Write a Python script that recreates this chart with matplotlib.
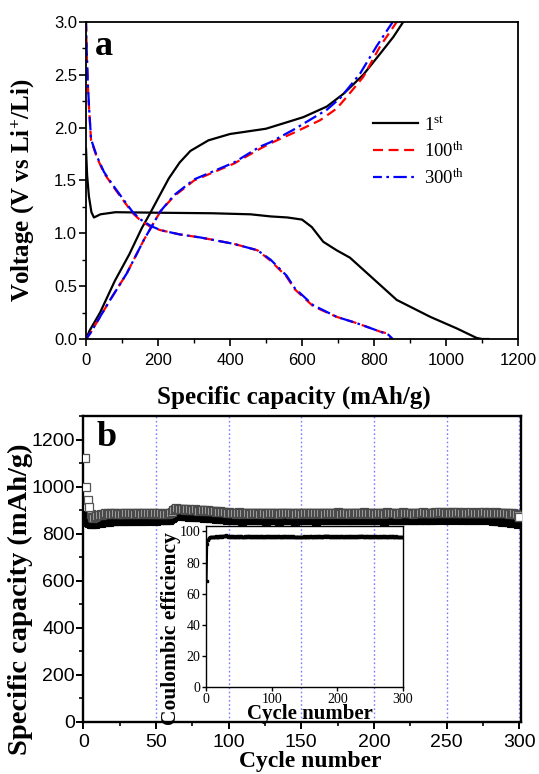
import matplotlib
matplotlib.use('Agg')
import matplotlib.pyplot as plt
from matplotlib.ticker import MultipleLocator, FormatStrFormatter

plt.rcParams['mathtext.fontset'] = 'custom'
plt.rcParams['mathtext.rm'] = 'Liberation Serif'
plt.rcParams['mathtext.it'] = 'Liberation Serif:italic'
plt.rcParams['mathtext.bf'] = 'Liberation Serif:bold'

SERIF = 'Liberation Serif'
SANS = 'Liberation Sans'

# ---- panel a: charge / discharge curves ----
cap_1st_dis = [0, 3, 8, 15, 22, 40, 82, 200, 350, 457, 513, 560, 600, 627, 659, 696, 733, 798, 863, 956, 1030, 1085, 1100, 1117]
v_1st_dis = [1.80, 1.55, 1.35, 1.20, 1.15, 1.18, 1.20, 1.195, 1.19, 1.18, 1.16, 1.15, 1.13, 1.06, 0.92, 0.84, 0.77, 0.57, 0.37, 0.21, 0.10, 0.01, 0.0, 0.0]

cap_1st_ch = [0, 10, 39, 80, 120, 155, 178, 200, 230, 260, 290, 340, 400, 500, 576, 604, 669, 715, 770, 817, 854, 881]
v_1st_ch = [0.0, 0.08, 0.25, 0.55, 0.80, 1.05, 1.19, 1.33, 1.52, 1.67, 1.78, 1.88, 1.94, 1.99, 2.07, 2.10, 2.20, 2.32, 2.50, 2.70, 2.86, 3.0]

cap_100_dis = [0, 2, 5, 9, 14, 30, 50, 76, 106, 130, 152, 180, 207, 260, 319, 411, 476, 513, 557, 580, 631, 696, 752, 817, 840, 848]
v_100_dis = [3.0, 2.7, 2.4, 2.15, 1.88, 1.72, 1.57, 1.44, 1.30, 1.19, 1.12, 1.06, 1.03, 0.99, 0.96, 0.90, 0.84, 0.74, 0.59, 0.47, 0.31, 0.21, 0.15, 0.07, 0.05, 0.0]

cap_100_ch = [0, 11, 67, 113, 161, 207, 244, 300, 411, 483, 511, 576, 650, 696, 724, 770, 817, 863]
v_100_ch = [0.0, 0.05, 0.37, 0.62, 0.94, 1.21, 1.35, 1.50, 1.66, 1.80, 1.85, 1.95, 2.07, 2.18, 2.29, 2.48, 2.77, 3.0]

cap_300_dis = [0, 2, 5, 9, 14, 30, 50, 76, 106, 130, 152, 180, 207, 260, 319, 411, 476, 513, 557, 580, 631, 696, 752, 817, 840, 852]
v_300_dis = [3.0, 2.72, 2.42, 2.16, 1.89, 1.73, 1.58, 1.45, 1.31, 1.20, 1.13, 1.07, 1.03, 0.99, 0.96, 0.90, 0.84, 0.75, 0.60, 0.48, 0.32, 0.21, 0.15, 0.07, 0.04, 0.0]

cap_300_ch = [0, 11, 67, 113, 161, 207, 244, 300, 411, 483, 511, 576, 669, 706, 761, 807, 844, 852]
v_300_ch = [0.0, 0.05, 0.37, 0.62, 0.94, 1.21, 1.36, 1.51, 1.67, 1.82, 1.86, 1.98, 2.17, 2.28, 2.51, 2.77, 2.96, 3.0]

# ---- panel b: cycling ----
cycles = list(range(1, 301))

cap_open = [
    1120, 1000, 945, 915, 885, 872, 868, 872, 875, 878,
    880, 882, 879, 884, 886, 883, 887, 885, 888, 884,
    886, 889, 885, 883, 887, 884, 882, 886, 888, 885,
    887, 884, 886, 889, 885, 887, 883, 886, 888, 884,
    886, 888, 885, 887, 884, 886, 889, 885, 887, 884,
    886, 883, 887, 885, 884, 886, 882, 885, 888, 886,
    893, 900, 905, 908, 906, 904, 907, 903, 905, 902,
    904, 901, 903, 900, 902, 899, 903, 900, 898, 901,
    899, 902, 898, 900, 897, 899, 896, 898, 895, 897,
    894, 896, 893, 895, 892, 894, 891, 893, 890, 892,
    889, 886, 890, 887, 885, 888, 891, 887, 884, 888,
    890, 886, 889, 887, 885, 889, 886, 888, 890, 887,
    885, 888, 886, 889, 887, 884, 888, 890, 886, 888,
    885, 887, 889, 886, 884, 888, 887, 890, 886, 888,
    887, 885, 889, 886, 888, 884, 887, 889, 886, 885,
    888, 886, 890, 887, 885, 888, 886, 889, 887, 884,
    888, 890, 886, 887, 889, 885, 888, 886, 890, 887,
    885, 889, 886, 888, 891, 887, 885, 888, 890, 886,
    889, 887, 885, 888, 886, 890, 887, 889, 885, 888,
    886, 889, 891, 887, 885, 888, 890, 886, 889, 887,
    885, 888, 890, 886, 889, 887, 884, 888, 891, 887,
    889, 886, 888, 890, 887, 885, 889, 886, 888, 891,
    887, 889, 886, 888, 890, 887, 885, 889, 887, 890,
    888, 886, 889, 891, 887, 888, 890, 886, 889, 887,
    889, 891, 888, 890, 892, 889, 891, 888, 890, 893,
    890, 888, 891, 889, 892, 890, 888, 891, 889, 890,
    888, 891, 889, 887, 890, 888, 892, 889, 887, 890,
    888, 891, 889, 887, 890, 892, 888, 889, 891, 888,
    890, 887, 889, 891, 888, 886, 890, 888, 887, 889,
    886, 888, 885, 887, 884, 886, 883, 882, 880, 872,
]

cap_solid = [
    880, 858, 850, 846, 842, 840, 841, 843, 845, 846,
    848, 846, 850, 849, 852, 850, 853, 851, 854, 852,
    855, 853, 857, 854, 856, 858, 855, 857, 854, 856,
    858, 855, 857, 859, 856, 858, 855, 857, 859, 856,
    858, 855, 857, 859, 856, 858, 860, 857, 859, 856,
    858, 860, 857, 859, 861, 858, 860, 857, 859, 861,
    866, 872, 878, 880, 878, 879, 876, 878, 875, 877,
    874, 876, 873, 875, 872, 874, 871, 873, 870, 872,
    869, 871, 868, 870, 867, 869, 866, 868, 865, 867,
    864, 866, 863, 865, 862, 864, 861, 863, 860, 862,
    861, 858, 862, 859, 857, 860, 863, 859, 856, 860,
    862, 858, 861, 859, 857, 861, 858, 860, 862, 859,
    857, 860, 858, 861, 859, 856, 860, 862, 858, 860,
    857, 859, 861, 858, 856, 860, 859, 862, 858, 860,
    859, 857, 861, 858, 860, 856, 859, 861, 858, 857,
    860, 858, 862, 859, 857, 860, 858, 861, 859, 856,
    860, 862, 858, 859, 861, 857, 860, 858, 862, 859,
    857, 861, 858, 860, 863, 859, 857, 860, 862, 858,
    861, 859, 857, 860, 858, 862, 859, 861, 857, 860,
    858, 861, 863, 859, 857, 860, 862, 858, 861, 859,
    857, 860, 862, 858, 861, 859, 856, 860, 863, 859,
    861, 858, 860, 862, 859, 857, 861, 858, 860, 863,
    859, 861, 858, 860, 862, 859, 857, 861, 859, 862,
    860, 858, 861, 863, 859, 860, 862, 858, 861, 859,
    861, 863, 860, 862, 864, 861, 863, 860, 862, 865,
    862, 860, 863, 861, 864, 862, 860, 863, 861, 862,
    860, 863, 861, 859, 862, 860, 864, 861, 859, 862,
    860, 863, 861, 859, 862, 864, 860, 861, 863, 860,
    858, 855, 857, 854, 856, 852, 855, 851, 853, 850,
    852, 848, 850, 847, 849, 846, 848, 845, 843, 845,
]

ce = [
    68.0, 92.0, 94.5, 95.5, 96.0, 96.2, 96.5, 96.3, 96.6, 96.4,
    96.5, 96.7, 96.4, 96.6, 96.8, 96.5, 96.7, 96.4, 96.6, 96.9,
    96.6, 96.8, 97.0, 96.7, 96.9, 97.2, 97.0, 97.3, 97.1, 97.4,
    97.2, 97.0, 96.8, 96.6, 96.9, 96.7, 96.5, 96.8, 96.6, 96.9,
    96.7, 96.5, 96.8, 96.6, 96.4, 96.7, 96.9, 96.6, 96.8, 96.5,
    96.7, 96.9, 96.6, 96.8, 96.5, 96.7, 96.4, 96.6, 96.8, 96.5,
    96.7, 96.9, 96.6, 96.8, 96.6, 96.9, 96.7, 96.5, 96.8, 96.6,
    96.9, 96.7, 96.5, 96.8, 96.6, 96.4, 96.7, 96.9, 96.6, 96.8,
    96.5, 96.7, 96.9, 96.6, 96.8, 96.5, 96.7, 96.4, 96.6, 96.8,
    96.5, 96.7, 96.9, 96.6, 96.8, 96.6, 96.9, 96.7, 96.5, 96.8,
    96.6, 96.4, 96.7, 96.9, 96.6, 96.8, 96.5, 96.7, 96.9, 96.6,
    96.8, 96.5, 96.7, 96.4, 96.6, 96.8, 96.5, 96.7, 96.9, 96.6,
    96.8, 96.6, 96.9, 96.7, 96.5, 96.8, 96.6, 96.4, 96.7, 96.9,
    96.6, 96.8, 96.5, 96.3, 96.6, 96.4, 96.2, 96.5, 96.7, 96.4,
    96.6, 96.3, 96.5, 96.7, 96.4, 96.6, 96.3, 96.5, 96.8, 96.6,
    96.4, 96.7, 96.5, 96.8, 96.6, 96.4, 96.7, 96.9, 96.6, 96.8,
    96.5, 96.7, 96.4, 96.6, 96.8, 96.5, 96.7, 96.9, 96.6, 96.8,
    96.6, 96.9, 96.7, 96.5, 96.8, 96.6, 96.4, 96.7, 96.9, 97.1,
    96.8, 97.0, 96.7, 96.9, 97.1, 96.8, 96.6, 96.9, 96.7, 96.5,
    96.8, 96.6, 96.9, 96.7, 96.5, 96.8, 96.6, 96.4, 96.7, 96.9,
    96.6, 96.8, 96.5, 96.7, 96.9, 96.6, 96.8, 96.5, 96.7, 96.4,
    96.6, 96.8, 96.5, 96.7, 96.9, 96.6, 96.8, 96.6, 96.9, 96.7,
    96.5, 96.8, 96.6, 96.4, 96.7, 96.9, 96.6, 96.8, 96.5, 96.7,
    96.9, 96.6, 96.8, 97.0, 96.7, 96.9, 97.1, 96.8, 96.6, 96.9,
    96.7, 96.5, 96.8, 96.6, 96.9, 96.7, 96.5, 96.8, 96.6, 96.4,
    96.7, 96.9, 96.6, 96.8, 96.5, 96.7, 96.9, 96.6, 96.8, 96.5,
    96.7, 96.4, 96.6, 96.8, 96.5, 96.7, 96.9, 96.6, 96.8, 96.6,
    96.9, 96.7, 96.5, 96.8, 96.6, 96.4, 96.7, 96.9, 96.6, 96.8,
    96.5, 96.7, 96.9, 96.6, 96.8, 96.5, 96.7, 96.4, 96.6, 96.8,
    96.5, 96.7, 96.4, 96.6, 96.3, 96.5, 96.2, 96.4, 96.3, 96.5,
]

grid_cycles = [50, 100, 150, 200, 250, 300]
n_first = 4  # first open squares drawn unfilled

fig = plt.figure(figsize=(5.39, 7.74), dpi=100)

# ================= panel a =================
ax1 = fig.add_axes([0.1596, 0.5620, 0.8015, 0.4096])
ax1.plot(cap_1st_dis, v_1st_dis, color='black', lw=1.6, label='1$^{\\mathrm{st}}$')
ax1.plot(cap_1st_ch, v_1st_ch, color='black', lw=1.6)
ax1.plot(cap_100_dis, v_100_dis, color='red', lw=1.6, ls=(0, (4.5, 2.5)), label='100$^{\\mathrm{th}}$')
ax1.plot(cap_100_ch, v_100_ch, color='red', lw=1.6, ls=(0, (4.5, 2.5)))
ax1.plot(cap_300_dis, v_300_dis, color='blue', lw=1.6, ls=(2, (6, 2, 1.2, 2)), label='300$^{\\mathrm{th}}$')
ax1.plot(cap_300_ch, v_300_ch, color='blue', lw=1.6, ls=(2, (6, 2, 1.2, 2)))

ax1.set_xlim(0, 1200)
ax1.set_ylim(0, 3.0)
ax1.xaxis.set_major_locator(MultipleLocator(200))
ax1.xaxis.set_minor_locator(MultipleLocator(100))
ax1.yaxis.set_major_locator(MultipleLocator(0.5))
ax1.yaxis.set_minor_locator(MultipleLocator(0.25))
ax1.yaxis.set_major_formatter(FormatStrFormatter('%.1f'))
ax1.tick_params(which='major', direction='out', length=5, width=1.2, labelsize=12)
ax1.tick_params(which='minor', direction='out', length=3, width=1.0)
ax1.tick_params(axis='x', pad=5)
ax1.tick_params(axis='y', pad=1.5)
for lab in ax1.get_xticklabels() + ax1.get_yticklabels():
    lab.set_fontfamily(SANS)
for sp in ax1.spines.values():
    sp.set_linewidth(1.3)

ax1.set_xlabel('Specific capacity (mAh/g)', fontfamily=SERIF, fontweight='bold', fontsize=18)
ax1.set_ylabel('Voltage (V vs Li$^{\\mathbf{+}}$/Li)', fontfamily=SERIF, fontweight='bold', fontsize=18)
ax1.xaxis.set_label_coords(0.48, -0.148)
ax1.yaxis.set_label_coords(-0.113, 0.47)
ax1.text(0.02, 0.975, 'a', transform=ax1.transAxes, fontfamily=SERIF, fontweight='bold',
         fontsize=26, ha='left', va='top')

ax1.legend(loc='upper left', bbox_to_anchor=(0.664, 0.705), frameon=False,
           prop={'family': SERIF, 'size': 13.5}, handlelength=2.4,
           handletextpad=0.35, labelspacing=0.42, borderpad=0, borderaxespad=0)

# ================= panel b =================
ax2 = fig.add_axes([0.1545, 0.0672, 0.8115, 0.3953])
for gx in grid_cycles:
    ax2.axvline(gx, color='#7b7bff', lw=1.0, ls=(0, (1.2, 1.8)), zorder=0)
ax2.plot(cycles, cap_solid, ls='none', marker='s', ms=6, mfc='black', mec='black', mew=0.8, zorder=2)
ax2.plot(cycles[n_first:], cap_open[n_first:], ls='none', marker='s', ms=6,
         mfc='#b4b4b4', mec='#4a4a4a', mew=0.9, zorder=3)
ax2.plot(cycles[:n_first], cap_open[:n_first], ls='none', marker='s', ms=6,
         mfc='white', mec='#555555', mew=0.9, zorder=4)
ax2.plot(cycles[-1:], cap_open[-1:], ls='none', marker='s', ms=6,
         mfc='white', mec='#555555', mew=0.9, zorder=4)

ax2.set_xlim(0, 301)
ax2.set_ylim(0, 1300)
ax2.xaxis.set_major_locator(MultipleLocator(50))
ax2.xaxis.set_minor_locator(MultipleLocator(25))
ax2.yaxis.set_major_locator(MultipleLocator(200))
ax2.yaxis.set_minor_locator(MultipleLocator(100))
ax2.tick_params(which='major', direction='out', length=5, width=1.4, labelsize=14)
ax2.tick_params(which='minor', direction='out', length=3, width=1.2)
ax2.tick_params(axis='x', pad=4)
ax2.tick_params(axis='y', pad=1)
for lab in ax2.get_xticklabels() + ax2.get_yticklabels():
    lab.set_fontfamily(SANS)
for sp in ax2.spines.values():
    sp.set_linewidth(1.7)

ax2.set_xlabel('Cycle number', fontfamily=SERIF, fontweight='bold', fontsize=17)
ax2.set_ylabel('Specific capacity (mAh/g)', fontfamily=SERIF, fontweight='bold', fontsize=20.5)
ax2.xaxis.set_label_coords(0.52, -0.094)
ax2.yaxis.set_label_coords(-0.115, 0.40)
ax2.text(0.03, 0.985, 'b', transform=ax2.transAxes, fontfamily=SERIF, fontweight='bold',
         fontsize=26, ha='left', va='top')

# inset: coulombic efficiency
ax3 = fig.add_axes([0.3822, 0.1124, 0.3655, 0.2080])
ax3.patch.set_alpha(0)
ax3.plot(cycles, ce, color='black', lw=1.3, marker='s', ms=1.8, mfc='black', mec='black')
ax3.set_xlim(0, 300)
ax3.set_ylim(0, 103.5)
ax3.xaxis.set_major_locator(MultipleLocator(100))
ax3.yaxis.set_major_locator(MultipleLocator(20))
ax3.tick_params(which='major', direction='out', length=3, width=1.0, labelsize=10, pad=1)
for lab in ax3.get_xticklabels() + ax3.get_yticklabels():
    lab.set_fontfamily(SERIF)
for sp in ax3.spines.values():
    sp.set_linewidth(1.0)
ax3.set_xlabel('Cycle number', fontfamily=SERIF, fontweight='bold', fontsize=15)
ax3.set_ylabel('Coulombic efficiency', fontfamily=SERIF, fontweight='bold', fontsize=15.5)
ax3.xaxis.set_label_coords(0.53, -0.108)
ax3.yaxis.set_label_coords(-0.128, 0.36)

fig.savefig('out.png', dpi=100)
